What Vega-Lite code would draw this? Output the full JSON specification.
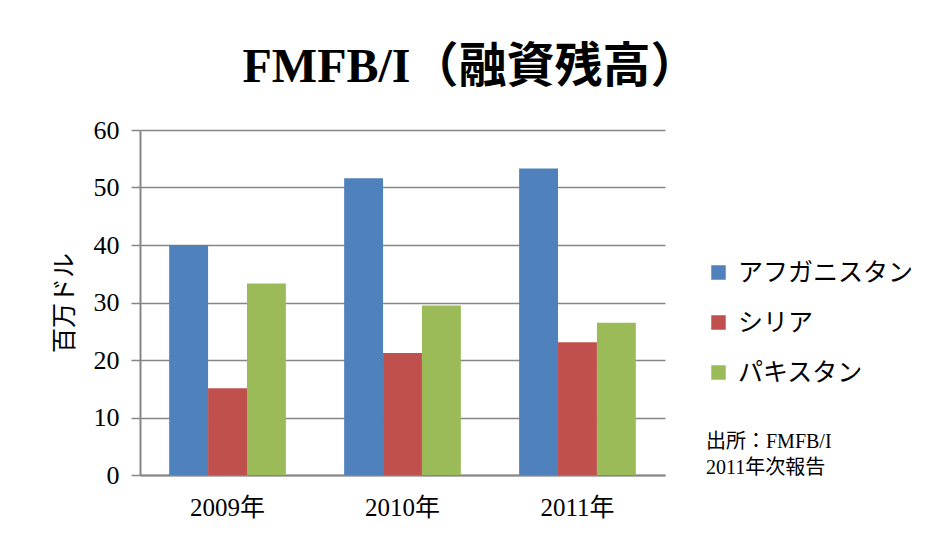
{
  "$schema": "https://vega.github.io/schema/vega-lite/v6.json",
  "width": 525,
  "height": 345,
  "autosize": {"type": "none"},
  "padding": {"left": 140, "top": 130, "right": 264, "bottom": 60},
  "background": "white",
  "title": {
    "text": "FMFB/I（融資残高）",
    "font": "Liberation Serif, Noto Sans CJK JP",
    "fontSize": 48,
    "fontWeight": "bold",
    "color": "#000000",
    "anchor": "middle",
    "dx": 68,
    "offset": 25
  },
  "data": {
    "values": [
      {"year": "2009年", "country": "アフガニスタン", "value": 40.0},
      {"year": "2009年", "country": "シリア", "value": 15.1},
      {"year": "2009年", "country": "パキスタン", "value": 33.3},
      {"year": "2010年", "country": "アフガニスタン", "value": 51.6},
      {"year": "2010年", "country": "シリア", "value": 21.2},
      {"year": "2010年", "country": "パキスタン", "value": 29.5},
      {"year": "2011年", "country": "アフガニスタン", "value": 53.3},
      {"year": "2011年", "country": "シリア", "value": 23.1},
      {"year": "2011年", "country": "パキスタン", "value": 26.5}
    ]
  },
  "mark": {"type": "bar"},
  "encoding": {
    "x": {
      "field": "year",
      "type": "nominal",
      "scale": {"paddingInner": 0.333, "paddingOuter": 0.1667},
      "axis": {
        "title": null,
        "labelAngle": 0,
        "labelFont": "Liberation Serif, Noto Sans CJK JP",
        "labelFontSize": 25,
        "labelColor": "#000000",
        "labelPadding": 20,
        "ticks": false,
        "domainColor": "#868686",
        "domainWidth": 2
      }
    },
    "xOffset": {
      "field": "country",
      "type": "nominal",
      "sort": ["アフガニスタン", "シリア", "パキスタン"],
      "scale": {"paddingInner": 0, "paddingOuter": 0}
    },
    "y": {
      "field": "value",
      "type": "quantitative",
      "scale": {"domain": [0, 60]},
      "axis": {
        "title": "百万ドル",
        "titleFont": "Noto Sans CJK JP",
        "titleFontSize": 25,
        "titleFontWeight": "normal",
        "titleColor": "#000000",
        "titlePadding": 16,
        "values": [0, 10, 20, 30, 40, 50, 60],
        "labelFont": "Liberation Serif",
        "labelFontSize": 26,
        "labelColor": "#000000",
        "labelPadding": 12,
        "tickSize": 9,
        "tickColor": "#868686",
        "tickWidth": 1.5,
        "domainColor": "#868686",
        "domainWidth": 2,
        "gridColor": "#868686",
        "gridWidth": 1.5
      }
    },
    "color": {
      "field": "country",
      "type": "nominal",
      "sort": ["アフガニスタン", "シリア", "パキスタン"],
      "scale": {
        "domain": ["アフガニスタン", "シリア", "パキスタン"],
        "range": ["#4F81BD", "#C0504D", "#9BBB59"]
      },
      "legend": {
        "orient": "none",
        "legendX": 566,
        "legendY": 130,
        "title": ["\u3000出所：FMFB/I", "\u30002011年次報告"],
        "titleOrient": "bottom",
        "titleFont": "Liberation Serif, Noto Sans CJK JP",
        "titleFontSize": 20,
        "titleFontWeight": "normal",
        "titleColor": "#000000",
        "titlePadding": 46,
        "titleLineHeight": 26,
        "titleAnchor": "start",
        "symbolType": "square",
        "symbolSize": 210,
        "symbolStrokeWidth": 0,
        "labelFont": "Noto Sans CJK JP",
        "labelFontSize": 25,
        "labelColor": "#000000",
        "labelOffset": 7,
        "rowPadding": 24,
        "labelLimit": 400
      }
    }
  },
  "config": {
    "view": {"stroke": null}
  }
}
